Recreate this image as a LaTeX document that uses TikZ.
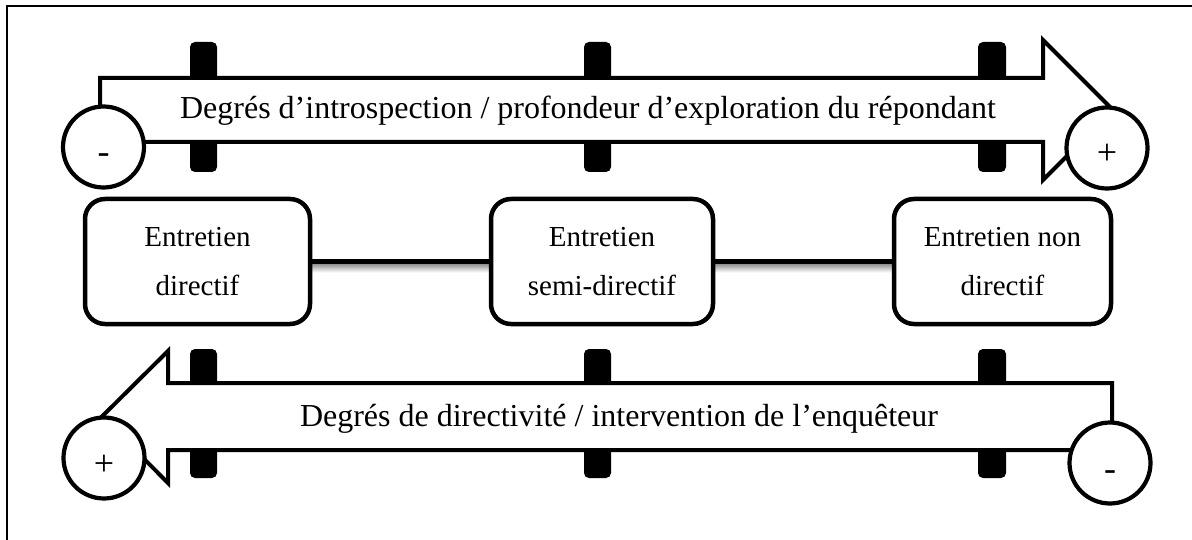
\documentclass[tikz,border=0pt]{standalone}
\usepackage{fontspec}
\setmainfont{Liberation Serif}
\usetikzlibrary{calc,backgrounds}
\begin{document}
\begin{tikzpicture}[x=1pt,y=-1pt,
  arrowshape/.style={draw=black, fill=white, line width=4pt, line join=miter},
  tickbar/.style={fill=black, rounded corners=5pt},
  endcircle/.style={circle, draw=black, fill=white, line width=4.2pt, minimum size=81pt, inner sep=0pt},
  sign/.style={font=\fontsize{36}{36}\selectfont, inner sep=0pt, anchor=base},
  stage/.style={draw=black, fill=white, line width=4.5pt, rounded corners=20pt, align=center, font=\fontsize{29}{49}\selectfont, minimum height=125pt, inner sep=0pt},
  axislabel/.style={font=\fontsize{32}{38}\selectfont, inner sep=0pt, anchor=base},
  link/.style={line width=5pt},
  linkshadow/.style={top color=black!45, bottom color=white, draw=none}
]
\useasboundingbox (0,0) rectangle (1192,540);
% frame
\draw[line width=2pt] (7,541) -- (7,6) -- (1193,6);

% ticks of the upper axis
\fill[tickbar] (190,42) rectangle (217,172);
\fill[tickbar] (584,42) rectangle (611,172);
\fill[tickbar] (978,42) rectangle (1006,172);
% ticks of the lower axis
\fill[tickbar] (190,349) rectangle (217,478);
\fill[tickbar] (584,349) rectangle (611,478);
\fill[tickbar] (978,349) rectangle (1006,478);

% upper arrow (to the right)
\draw[arrowshape] (100,78) -- (1043,78) -- (1043,40) -- (1113,110) -- (1043,180) -- (1043,142) -- (100,142) -- cycle;
\node[axislabel] (toplabel) at (588,119) {Degrés d’introspection / profondeur d’exploration du répondant};

% lower arrow (to the left)
\draw[arrowshape] (1112,383) -- (168,383) -- (168,351) -- (102,416.5) -- (168,483) -- (168,450) -- (1112,450) -- cycle;
\node[axislabel] (botlabel) at (619,426) {Degrés de directivité / intervention de l’enquêteur};

% end circles
\node[endcircle] (tl) at (103.5,147) {};
\node[sign] (tlsign) at ($(tl.center)+(0,17)$) {-};
\node[endcircle] (tr) at (1107,148) {};
\node[sign] (trsign) at ($(tr.center)+(0,17)$) {+};
\node[endcircle] (bl) at (104,458) {};
\node[sign] (blsign) at ($(bl.center)+(0,17)$) {+};
\node[endcircle] (br) at (1110,463) {};
\node[sign] (brsign) at ($(br.center)+(0,17)$) {-};

% stages
\node[stage, minimum width=225pt] (b1) at (197.5,261.5) {Entretien\\directif};
\node[stage, minimum width=222pt] (b2) at (602,261.5) {Entretien\\semi-directif};
\node[stage, minimum width=217pt] (b3) at (1002.5,261.5) {Entretien non\\directif};

\begin{scope}[on background layer]
\shade[linkshadow] ($(b1.east)+(0,2)$) rectangle ($(b2.west)+(0,11)$);
\shade[linkshadow] ($(b2.east)+(0,2)$) rectangle ($(b3.west)+(0,11)$);
\draw[link] (b1.east) -- (b2.west);
\draw[link] (b2.east) -- (b3.west);
\end{scope}
\end{tikzpicture}
\end{document}
